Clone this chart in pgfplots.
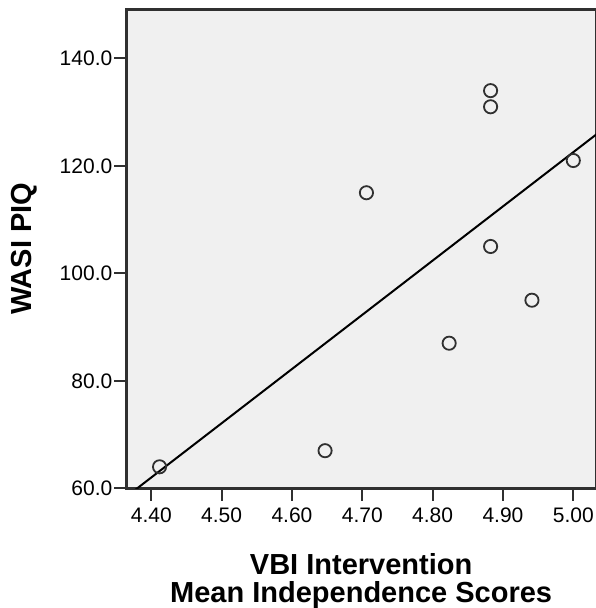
\documentclass[border=0pt]{standalone}
\usepackage{pgfplots}
\pgfplotsset{compat=1.18}
\usepackage{fontspec}
\setmainfont{Liberation Sans}
\definecolor{plotbg}{HTML}{F0F0F0}
\definecolor{framec}{HTML}{303030}
\begin{document}
\begin{tikzpicture}
% canvas of the reference, axis box lower left at (0,0); right frame falls just outside
\useasboundingbox (-127pt,-119.7pt) rectangle (468pt,488.3pt);
\begin{axis}[
    scale only axis,
    width=469.8pt, height=478.8pt,
    xmin=4.3655, xmax=5.0334,
    ymin=60, ymax=149.1,
    axis background/.style={fill=plotbg},
    axis line style={framec, line width=3pt},
    xtick={4.4,4.5,4.6,4.7,4.8,4.9,5.0},
    ytick={60,80,100,120,140},
    xtick pos=bottom, ytick pos=left,
    tick align=outside,
    major tick length=12.5pt,
    tick style={framec, line width=2pt},
    scaled ticks=false,
    tick label style={font=\fontsize{21}{24}\selectfont, inner sep=2pt,
        /pgf/number format/assume math mode=true},
    xticklabel style={yshift=-5pt, /pgf/number format/fixed,
        /pgf/number format/fixed zerofill, /pgf/number format/precision=2},
    yticklabel style={/pgf/number format/fixed,
        /pgf/number format/fixed zerofill, /pgf/number format/precision=1},
    xlabel={VBI Intervention\\Mean Independence Scores},
    xlabel style={font=\fontsize{29}{28.5}\selectfont\bfseries, align=center,
        inner sep=0pt, at={(axis description cs:0.4984,-0.1351)}, anchor=north},
    ylabel={WASI PIQ},
    ylabel style={font=\fontsize{29}{28}\selectfont\bfseries,
        inner sep=0pt, at={(axis description cs:-0.218,0.5)}, anchor=center},
]
% linear fit
\addplot[black, line width=2pt] coordinates {(4.3655,58.53) (5.0334,125.92)};
% observations
\addplot[only marks, mark=o, mark size=6.6pt,
    mark options={framec, line width=1.8pt}] coordinates {
    (4.4118,64) (4.6471,67) (4.7059,115) (4.8235,87) (4.8824,134)
    (4.8824,131) (4.8824,105) (4.9412,95) (5.0000,121)
};
\end{axis}
\end{tikzpicture}
\end{document}
